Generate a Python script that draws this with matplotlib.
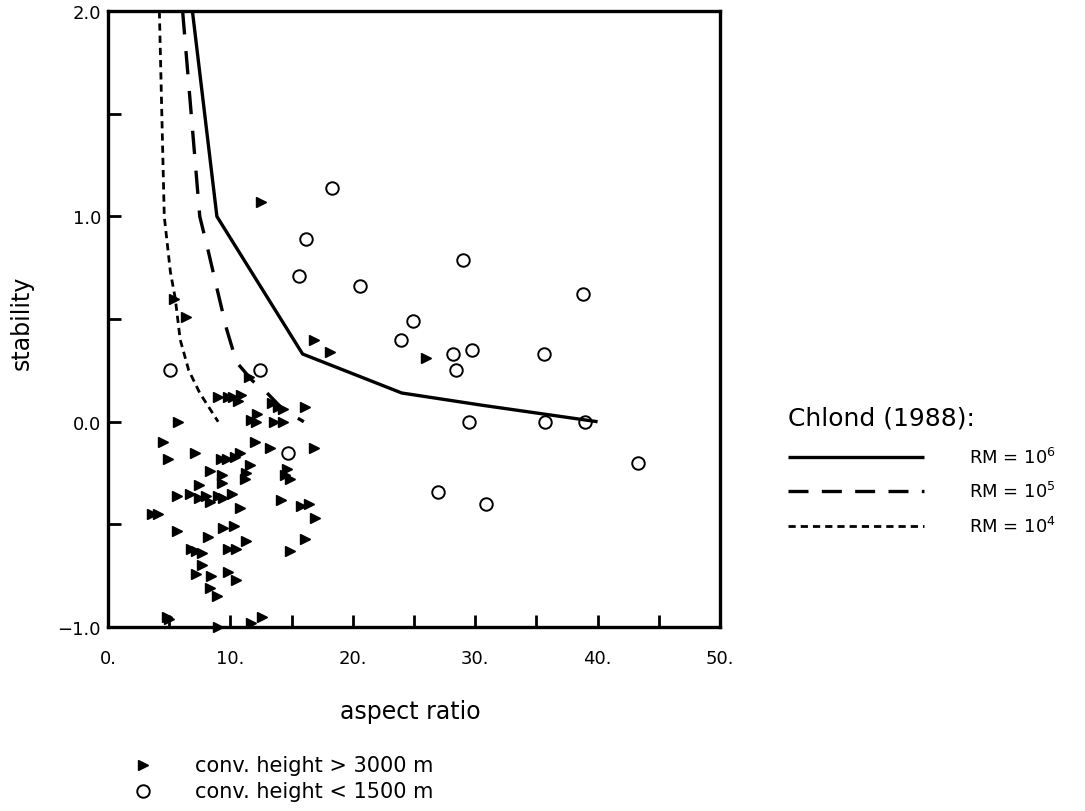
import numpy as np
import matplotlib
matplotlib.use('Agg')
import matplotlib.pyplot as plt
from matplotlib.lines import Line2D

# Chlond (1988) stability curves
rm6_x = [6.9, 8.9, 15.9, 24.0, 30.6, 40.0]
rm6_y = [2.0, 1.0, 0.33, 0.14, 0.08, 0.0]
rm5_x = [6.1, 7.5, 8.2, 8.9, 9.7, 10.5, 11.8, 13.0, 14.3, 16.0]
rm5_y = [2.0, 1.0, 0.83, 0.65, 0.45, 0.29, 0.20, 0.14, 0.06, 0.0]
rm4_x = [4.2, 4.6, 5.1, 5.5, 5.9, 6.6, 7.5, 9.0]
rm4_y = [2.0, 1.0, 0.73, 0.6, 0.4, 0.25, 0.14, 0.0]

# convection height > 3000 m
deep_x = [12.5, 6.4, 5.4, 16.8, 18.1, 26.0, 11.5, 9.0, 9.8, 10.2, 10.9, 10.6,
          13.4, 13.9, 14.3, 16.1, 11.7, 12.2, 12.1, 13.6, 14.3, 5.7, 4.5, 4.9,
          7.1, 12.0, 13.2, 16.8, 9.2, 9.7, 10.4, 10.8, 11.6, 11.3, 11.2, 8.3,
          9.3, 9.3, 14.6, 14.5, 14.9, 7.4, 5.6, 6.7, 7.4, 8.0, 8.3, 9.0, 9.4,
          10.1, 10.8, 3.6, 4.1, 14.1, 15.8, 16.4, 16.9, 5.6, 9.4, 10.3, 8.2,
          11.3, 16.1, 6.8, 7.2, 7.7, 9.8, 10.5, 14.9, 7.7, 7.2, 8.4, 9.8, 10.5,
          8.3, 8.9, 4.8, 5.0, 12.6, 11.7, 9.0]
deep_y = [1.07, 0.51, 0.60, 0.40, 0.34, 0.31, 0.22, 0.12, 0.12, 0.12, 0.13, 0.10,
          0.09, 0.07, 0.06, 0.07, 0.01, 0.04, 0.0, 0.0, 0.0, 0.0, -0.10, -0.18,
          -0.15, -0.10, -0.13, -0.13, -0.18, -0.18, -0.17, -0.15, -0.21, -0.25, -0.28, -0.24,
          -0.26, -0.30, -0.23, -0.26, -0.28, -0.31, -0.36, -0.35, -0.37, -0.36, -0.39, -0.36, -0.37,
          -0.35, -0.42, -0.45, -0.45, -0.38, -0.41, -0.40, -0.47, -0.53, -0.52, -0.51, -0.56,
          -0.58, -0.57, -0.62, -0.63, -0.64, -0.62, -0.62, -0.63, -0.70, -0.74, -0.75, -0.73, -0.77,
          -0.81, -0.85, -0.95, -0.96, -0.95, -0.98, -1.0]

# convection height < 1500 m
shallow_x = [18.3, 16.2, 15.6, 20.6, 29.0, 24.9, 23.9, 28.2, 29.7, 28.4, 12.4,
             5.1, 29.5, 35.6, 38.8, 35.7, 39.0, 43.3, 27.0, 30.9, 14.7]
shallow_y = [1.14, 0.89, 0.71, 0.66, 0.79, 0.49, 0.40, 0.33, 0.35, 0.25, 0.25,
             0.25, 0.0, 0.33, 0.62, 0.0, 0.0, -0.20, -0.34, -0.40, -0.15]

xticks_major = [0, 10, 20, 30, 40, 50]
xtick_labels = ['0.', '10.', '20.', '30.', '40.', '50.']
yticks_major = [-1.0, 0.0, 1.0, 2.0]
ytick_labels = ['\u22121.0', '0.0', '1.0', '2.0']

solid = (0, ())
dashed = (0, (7, 5))
dotted = (0, (2.6, 1.8))

fig = plt.figure(figsize=(10.85, 8.12), dpi=100)
ax = fig.add_axes([0.0995, 0.2266, 0.5641, 0.7584])

ax.plot(rm6_x, rm6_y, color='black', lw=2.4, linestyle=solid)
ax.plot(rm5_x, rm5_y, color='black', lw=2.4, linestyle=dashed)
ax.plot(rm4_x, rm4_y, color='black', lw=2.0, linestyle=dotted)

ax.plot(deep_x, deep_y, linestyle='none', marker='>', markersize=7,
        color='black', clip_on=False)
ax.plot(shallow_x, shallow_y, linestyle='none', marker='o', markersize=9,
        markerfacecolor='none', markeredgecolor='black', markeredgewidth=1.4,
        clip_on=False)

ax.set_xlim(0, 50)
ax.set_ylim(-1.0, 2.0)
ax.set_xticks(xticks_major)
ax.set_xticklabels(xtick_labels)
ax.set_xticks(np.arange(5, 50, 10), minor=True)
ax.set_yticks(yticks_major)
ax.set_yticklabels(ytick_labels)
ax.set_yticks([-0.5, 0.5, 1.5], minor=True)
ax.tick_params(axis='both', which='both', direction='in', width=2.0,
               length=9, labelsize=13, top=False, right=False)
ax.tick_params(axis='x', which='major', pad=16)
ax.tick_params(axis='y', which='major', pad=5)
for side in ax.spines.values():
    side.set_linewidth(2.4)

fig.text(0.378, 0.123, 'aspect ratio', fontsize=17, ha='center', va='center')
fig.text(0.02, 0.603, 'stability', fontsize=17, ha='center', va='center',
         rotation=90)

# curve legend on the right
fig.text(0.726, 0.485, 'Chlond (1988):', fontsize=18, ha='left', va='center')
rows = [(0.436, solid, 2.4, '6'), (0.394, (0, (6, 4)), 2.4, '5'), (0.351, dotted, 2.0, '4')]
for yy, ls, lw, ex in rows:
    fig.add_artist(Line2D([0.726, 0.852], [yy, yy], color='black', lw=lw,
                          linestyle=ls))
    fig.text(0.893, yy, 'RM = 10$^{%s}$' % ex, fontsize=13, ha='left',
             va='center')

# marker legend below
fig.add_artist(Line2D([0.132], [0.057], marker='>', markersize=7,
                      color='black', linestyle='none'))
fig.add_artist(Line2D([0.132], [0.025], marker='o', markersize=9,
                      markerfacecolor='none', markeredgecolor='black',
                      markeredgewidth=1.4, linestyle='none'))
fig.text(0.18, 0.057, 'conv. height > 3000 m', fontsize=15, ha='left',
         va='center')
fig.text(0.18, 0.025, 'conv. height < 1500 m', fontsize=15, ha='left',
         va='center')

fig.savefig('out.png', dpi=100)
